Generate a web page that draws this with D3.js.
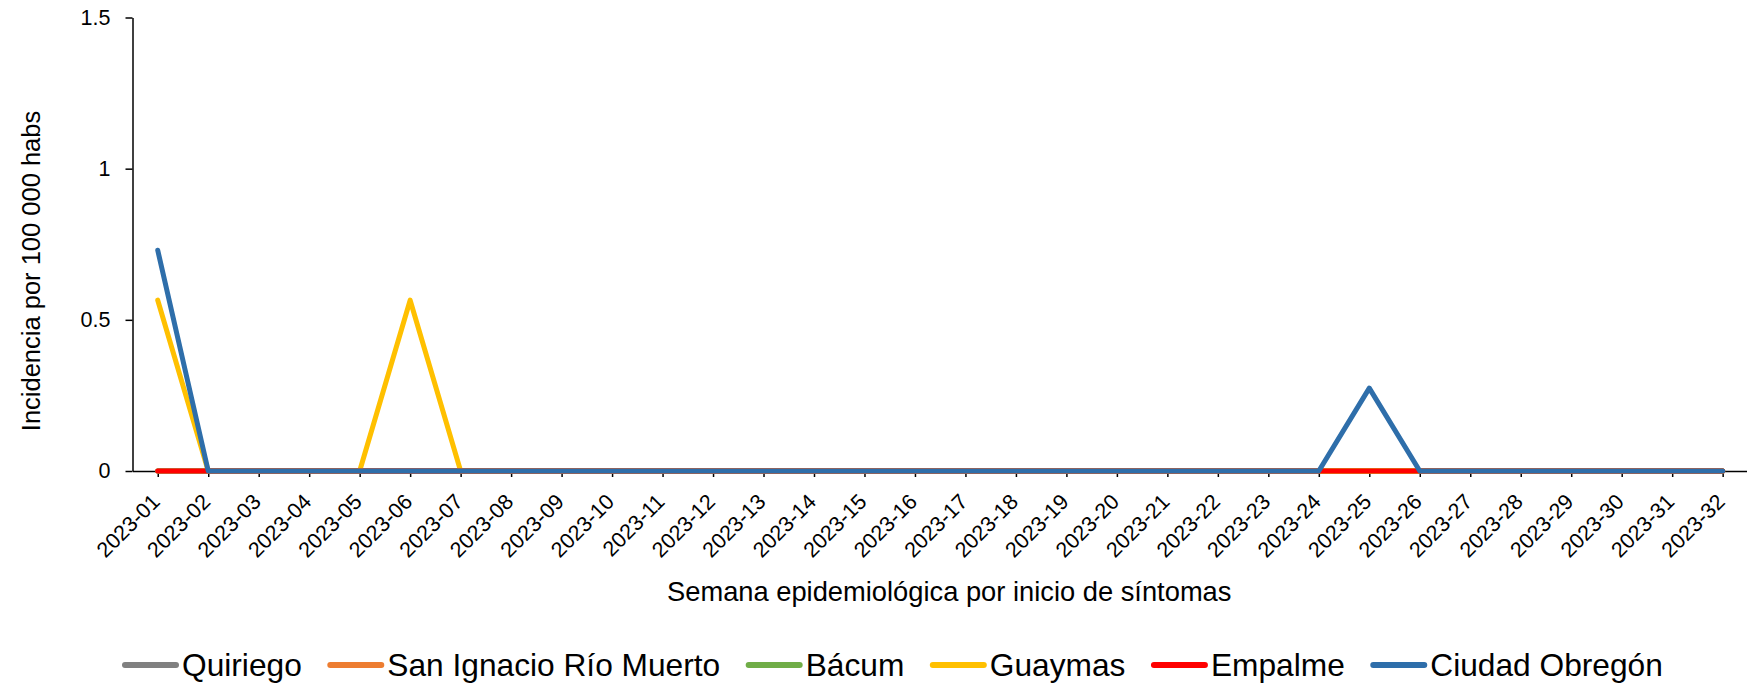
<!DOCTYPE html>
<html>
<head>
<meta charset="utf-8">
<script src="https://cdn.jsdelivr.net/npm/d3@7"></script>
<style>
  html, body { margin: 0; padding: 0; background: #fff; }
  svg { display: block; font-family: "Liberation Sans", Arial, sans-serif; }
</style>
</head>
<body>
<svg id="chart" width="1747" height="683"></svg>
<script>
// ---- data ----
const weeks = ["2023-01","2023-02","2023-03","2023-04","2023-05","2023-06","2023-07","2023-08",
  "2023-09","2023-10","2023-11","2023-12","2023-13","2023-14","2023-15","2023-16",
  "2023-17","2023-18","2023-19","2023-20","2023-21","2023-22","2023-23","2023-24",
  "2023-25","2023-26","2023-27","2023-28","2023-29","2023-30","2023-31","2023-32"];
const seriesNames = ["Quiriego","San Ignacio Río Muerto","Bácum","Guaymas","Empalme","Ciudad Obregón"];
const quiriego     = [0,0,0,0,0,0,0,0,0,0,0,0,0,0,0,0,0,0,0,0,0,0,0,0,0,0,0,0,0,0,0,0];
const sanIgnacio   = [0,0,0,0,0,0,0,0,0,0,0,0,0,0,0,0,0,0,0,0,0,0,0,0,0,0,0,0,0,0,0,0];
const bacum        = [0,0,0,0,0,0,0,0,0,0,0,0,0,0,0,0,0,0,0,0,0,0,0,0,0,0,0,0,0,0,0,0];
const guaymas      = [0.565,0,0,0,0,0.565,0,0,0,0,0,0,0,0,0,0,0,0,0,0,0,0,0,0,0,0,0,0,0,0,0,0];
const empalme      = [0,0,0,0,0,0,0,0,0,0,0,0,0,0,0,0,0,0,0,0,0,0,0,0,0,0,0,0,0,0,0,0];
const ciudadObregon= [0.73,0,0,0,0,0,0,0,0,0,0,0,0,0,0,0,0,0,0,0,0,0,0,0,0.274,0,0,0,0,0,0,0];
const seriesValues = [quiriego, sanIgnacio, bacum, guaymas, empalme, ciudadObregon];
const seriesColors = ["#808080","#ED7D31","#70AD47","#FFC000","#FF0000","#2E6EAA"];
const yTicks = [0, 0.5, 1, 1.5];
const yTickLabels = ["0","0.5","1","1.5"];
const xTitle = "Semana epidemiológica por inicio de síntomas";
const yTitle = "Incidencia por 100 000 habs";

// ---- layout ----
const svg = d3.select("#chart");
const x = d3.scalePoint().domain(weeks).range([132.5, 1747.9]).padding(0.5);
const y = d3.scaleLinear().domain([0, 1.5]).range([471, 17.5]);

// y axis
const yAxis = d3.axisLeft(y).tickValues(yTicks)
  .tickFormat((d, i) => yTickLabels[i]).tickSizeInner(7).tickSizeOuter(0).tickPadding(15);
const gy = svg.append("g").attr("transform", "translate(132.5,0)").call(yAxis);
gy.select(".domain").attr("stroke", "#000").attr("stroke-width", 1.5);
gy.selectAll(".tick line").attr("stroke", "#000").attr("stroke-width", 1.5);
gy.selectAll(".tick text").attr("font-size", 21.5).attr("fill", "#000")
  .attr("font-family", "Liberation Sans, Arial, sans-serif");

// x axis
const xAxis = d3.axisBottom(x).tickSizeInner(6).tickSizeOuter(0).tickPadding(0);
const gx = svg.append("g").attr("transform", "translate(0,471)").call(xAxis);
gx.select(".domain").attr("stroke", "#000").attr("stroke-width", 1.5);
gx.selectAll(".tick line").attr("stroke", "#000").attr("stroke-width", 1.5);
gx.selectAll(".tick text")
  .attr("font-size", 21.5).attr("fill", "#000")
  .attr("font-family", "Liberation Sans, Arial, sans-serif")
  .attr("text-anchor", "end")
  .attr("dy", null).attr("y", null)
  .attr("transform", "translate(3,32) rotate(-45)");

// lines
const line = d3.line().x((d, i) => x(weeks[i])).y(d => y(d));
seriesValues.forEach((vals, k) => {
  svg.append("path")
    .datum(vals)
    .attr("d", line)
    .attr("fill", "none")
    .attr("stroke", seriesColors[k])
    .attr("stroke-width", 5)
    .attr("stroke-linecap", "round")
    .attr("stroke-linejoin", "round");
});

// axis titles
svg.append("text")
  .attr("x", 667).attr("y", 601)
  .attr("font-size", 27.3).attr("fill", "#000")
  .text(xTitle);
svg.append("text")
  .attr("transform", "translate(40,271) rotate(-90)")
  .attr("text-anchor", "middle")
  .attr("font-size", 25.5).attr("fill", "#000")
  .text(yTitle);

// legend
const legend = svg.append("g");
let lx = 123;
seriesNames.forEach((name, k) => {
  const g = legend.append("g");
  g.append("line")
    .attr("x1", lx + 2).attr("x2", lx + 53)
    .attr("y1", 665).attr("y2", 665)
    .attr("stroke", seriesColors[k]).attr("stroke-width", 6)
    .attr("stroke-linecap", "round");
  const t = g.append("text")
    .attr("x", lx + 59).attr("y", 676)
    .attr("font-size", 31.7).attr("fill", "#000")
    .text(name);
  const w = t.node().getComputedTextLength();
  lx = lx + 59 + w + 26.5;
});
</script>
</body>
</html>
